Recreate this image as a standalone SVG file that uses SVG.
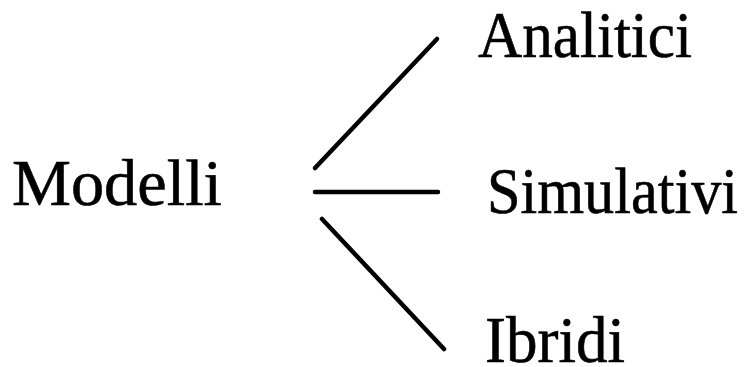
<svg xmlns="http://www.w3.org/2000/svg" width="744" height="367" viewBox="0 0 744 367">
<style>
text{font-family:"Liberation Serif","Times New Roman",serif;font-size:66px;fill:#000;stroke:#000;stroke-width:0.6}
.c{stroke:#000;stroke-width:4.5;stroke-linecap:round;fill:none}
</style>
<rect width="744" height="367" fill="#fff"/>
<g id="connectors">
<line class="c" x1="315" y1="168" x2="437" y2="39"/>
<line class="c" x1="315" y1="192" x2="438" y2="192"/>
<line class="c" x1="322" y1="219" x2="444" y2="349"/>
</g>
<g id="modelli"><text x="12" y="205" textLength="210" lengthAdjust="spacingAndGlyphs">Modelli</text></g>
<g id="analitici"><text x="478" y="57" textLength="214" lengthAdjust="spacingAndGlyphs">Analitici</text></g>
<g id="simulativi"><text x="487" y="213" textLength="251" lengthAdjust="spacingAndGlyphs">Simulativi</text></g>
<g id="ibridi"><text x="485" y="362" textLength="140" lengthAdjust="spacingAndGlyphs">Ibridi</text></g>
</svg>
